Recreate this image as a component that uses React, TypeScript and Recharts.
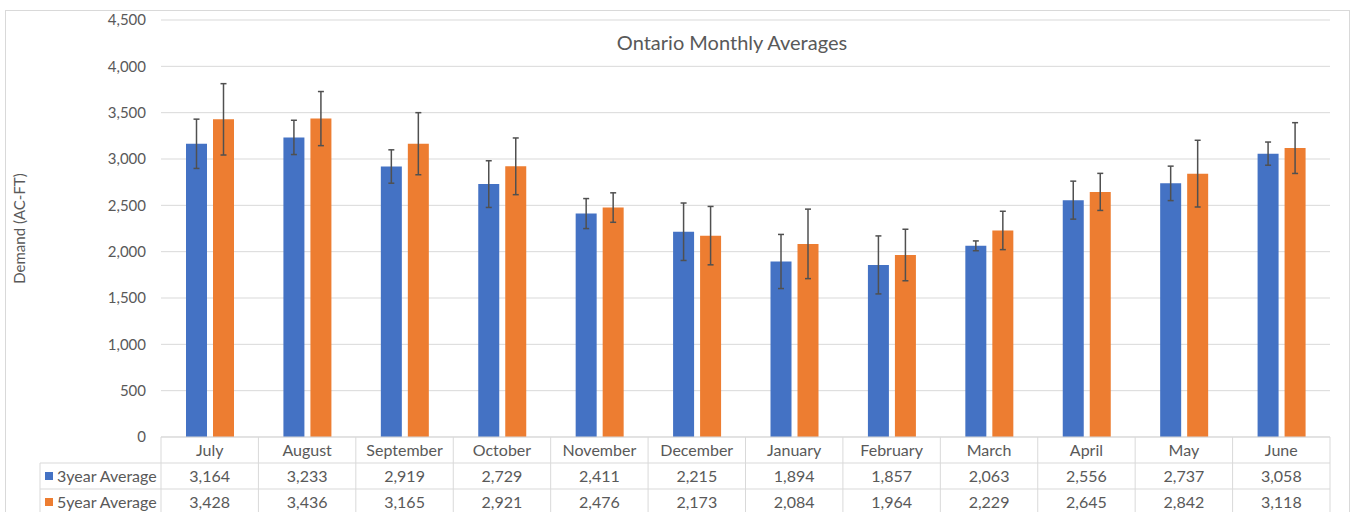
import { BarChart, Bar, XAxis, YAxis, CartesianGrid, ErrorBar } from "recharts";

const months = ["July", "August", "September", "October", "November", "December", "January", "February", "March", "April", "May", "June"];
const avg3 = [3164, 3233, 2919, 2729, 2411, 2215, 1894, 1857, 2063, 2556, 2737, 3058];
const avg5 = [3428, 3436, 3165, 2921, 2476, 2173, 2084, 1964, 2229, 2645, 2842, 3118];
const err3 = [266, 185, 180, 252, 162, 310, 292, 313, 53, 205, 186, 125];
const err5 = [385, 292, 335, 306, 159, 315, 375, 278, 207, 200, 360, 274];
const yTicks = [0, 500, 1000, 1500, 2000, 2500, 3000, 3500, 4000, 4500];
const seriesNames = ["3year Average", "5year Average"];

const BLUE = "#4472C4";
const ORANGE = "#ED7D31";
const GRID = "#d9d9d9";
const TEXT = "#595959";
const FONT = "Lato, 'Noto Sans', sans-serif";

const data = months.map((m, i) => ({
  month: m,
  a3: avg3[i],
  a5: avg5[i],
  e3: err3[i],
  e5: err5[i],
}));

// plot box
const PLOT_LEFT = 161;
const PLOT_RIGHT = 1330;
const PLOT_BOTTOM = 437;
const ROW_H = 26;
const COL_W = (PLOT_RIGHT - PLOT_LEFT) / months.length;
const LEGEND_LEFT = 40;
const TABLE_FS = 16;
const fmt = (v: number) => v.toLocaleString("en-US");

const TableTick = (props: any) => {
  const { x, payload } = props;
  const i: number = payload.index;
  const left = x - COL_W / 2;
  const right = x + COL_W / 2;
  const r1 = PLOT_BOTTOM + ROW_H;
  const r2 = PLOT_BOTTOM + ROW_H * 2;
  const bottom = 530;
  const textProps = { fill: TEXT, fontSize: TABLE_FS, fontFamily: FONT, textAnchor: "middle" as const };
  return (
    <g>
      <line x1={left} y1={PLOT_BOTTOM} x2={left} y2={bottom} stroke={GRID} />
      {i === months.length - 1 && <line x1={right} y1={PLOT_BOTTOM} x2={right} y2={bottom} stroke={GRID} />}
      <line x1={left} y1={r1} x2={right} y2={r1} stroke={GRID} />
      <line x1={left} y1={r2} x2={right} y2={r2} stroke={GRID} />
      <text x={x} y={PLOT_BOTTOM + 19} {...textProps}>{payload.value}</text>
      <text x={x} y={r1 + 19} {...textProps}>{fmt(avg3[i])}</text>
      <text x={x} y={r2 + 19} {...textProps}>{fmt(avg5[i])}</text>
      {i === 0 && (
        <g>
          <line x1={LEGEND_LEFT} y1={r1} x2={left} y2={r1} stroke={GRID} />
          <line x1={LEGEND_LEFT} y1={r2} x2={left} y2={r2} stroke={GRID} />
          <line x1={LEGEND_LEFT} y1={r1} x2={LEGEND_LEFT} y2={bottom} stroke={GRID} />
          <rect x={45} y={r1 + 9} width={8} height={8} fill={BLUE} />
          <rect x={45} y={r2 + 9} width={8} height={8} fill={ORANGE} />
          <text x={57} y={r1 + 19} fill={TEXT} fontSize={TABLE_FS} fontFamily={FONT}>{seriesNames[0]}</text>
          <text x={57} y={r2 + 19} fill={TEXT} fontSize={TABLE_FS} fontFamily={FONT}>{seriesNames[1]}</text>
        </g>
      )}
    </g>
  );
};

export default function App() {
  return (
    <div style={{ position: "absolute", left: 0, top: 0, width: 1353, height: 512, overflow: "hidden", background: "#fff", fontFamily: FONT }}>
      <div style={{ position: "absolute", left: 5, top: 10, width: 1343, height: 520, border: `1px solid ${GRID}` }} />
      <div style={{ position: "absolute", left: 0, width: 1464, top: 30, textAlign: "center", fontSize: 20, color: TEXT }}>
        Ontario Monthly Averages
      </div>
      <div style={{ position: "absolute", left: 0, top: 0 }}>
        <BarChart
          width={1353}
          height={512}
          data={data}
          margin={{ top: 20, right: 23, bottom: 0, left: 10 }}
          barSize={21}
          barGap={6}
        >
          <CartesianGrid vertical={false} stroke={GRID} />
          <XAxis
            dataKey="month"
            height={75}
            axisLine={{ stroke: GRID }}
            tickLine={false}
            interval={0}
            tick={<TableTick />}
          />
          <YAxis
            width={151}
            domain={[0, 4500]}
            ticks={yTicks}
            axisLine={false}
            tickLine={false}
            tickMargin={9}
            tickFormatter={fmt}
            tick={{ fill: TEXT, fontSize: 15, fontFamily: FONT }}
            label={{ value: "Demand (AC-FT)", angle: -90, position: "insideLeft", offset: 10, fill: TEXT, fontSize: 15, fontFamily: FONT, style: { textAnchor: "middle" } }}
          />
          <Bar dataKey="a3" name={seriesNames[0]} fill={BLUE} isAnimationActive={false}>
            <ErrorBar dataKey="e3" width={3} stroke="#505050" strokeWidth={1.5} />
          </Bar>
          <Bar dataKey="a5" name={seriesNames[1]} fill={ORANGE} isAnimationActive={false}>
            <ErrorBar dataKey="e5" width={3} stroke="#505050" strokeWidth={1.5} />
          </Bar>
        </BarChart>
      </div>
    </div>
  );
}
